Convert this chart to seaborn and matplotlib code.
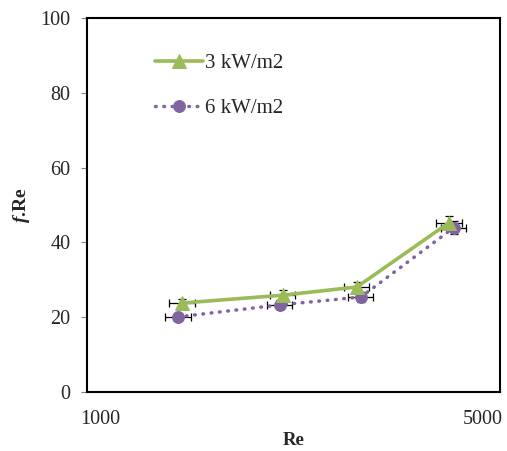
import numpy as np
import pandas as pd
import seaborn as sns
import matplotlib.pyplot as plt
from matplotlib.transforms import ScaledTranslation

# values
re_3kw = [1449, 2146, 2864, 4101]
fre_3kw = [23.8, 25.9, 28.1, 45.3]
re_6kw = [1426, 2121, 2908, 4180]
fre_6kw = [20.1, 23.3, 25.4, 44.0]
xerr_frac = 0.05
yerr_3kw = [1.2, 1.3, 1.3, 1.8]
yerr_6kw = [1.0, 1.2, 1.3, 1.8]
labels = ['3 kW/m2', '6 kW/m2']

sns.set_style('white')
plt.rcParams['font.family'] = ['Liberation Serif', 'DejaVu Serif']
plt.rcParams['mathtext.fontset'] = 'custom'
plt.rcParams['mathtext.rm'] = 'Liberation Serif'
plt.rcParams['mathtext.it'] = 'Liberation Serif:italic'
plt.rcParams['mathtext.bf'] = 'Liberation Serif:bold'
plt.rcParams['mathtext.bfit'] = 'Liberation Serif:italic:bold'

green = '#9BBB59'
purple = '#8064A2'

df = pd.concat([
    pd.DataFrame({'Re': re_3kw, 'fRe': fre_3kw, 'q': labels[0]}),
    pd.DataFrame({'Re': re_6kw, 'fRe': fre_6kw, 'q': labels[1]}),
])

fig = plt.figure(figsize=(5.07, 4.51), dpi=100)
ax = fig.add_axes([0.1716, 0.1308, 0.8144, 0.829])

# error bars first so the markers sit on top
for xs, ys, ye in [(re_3kw, fre_3kw, yerr_3kw), (re_6kw, fre_6kw, yerr_6kw)]:
    xs = np.array(xs)
    ax.errorbar(xs, ys, xerr=xs * xerr_frac, yerr=ye, fmt='none',
                ecolor='black', elinewidth=0.9, capsize=3, capthick=0.9, zorder=2)

sns.lineplot(data=df[df['q'] == labels[0]], x='Re', y='fRe', ax=ax,
             color=green, lw=2.6, marker='^', markersize=10,
             markeredgecolor=green, label=labels[0], zorder=4)
sns.lineplot(data=df[df['q'] == labels[1]], x='Re', y='fRe', ax=ax,
             color=purple, lw=2.5, linestyle=(0, (0.2, 2.2)), dash_capstyle='round',
             marker='o', markersize=8.5, markeredgecolor=purple,
             label=labels[1], zorder=3)

ax.set_xscale('log')
ax.set_xlim(1000, 5000)
ax.set_ylim(0, 100)
ax.set_xticks([1000, 5000])
ax.set_xticklabels(['1000', '5000'])
ax.xaxis.set_minor_locator(plt.NullLocator())
ax.set_yticks([0, 20, 40, 60, 80, 100])
ax.tick_params(axis='x', length=0, pad=13, labelsize=14.5)
ax.tick_params(axis='y', length=4, width=0.8, color='#808080', direction='out',
               left=True, pad=8, labelsize=14.5)

# x labels sit a bit inward like the original
xl = ax.get_xticklabels()
xl[0].set_transform(xl[0].get_transform() + ScaledTranslation(0.13, 0, fig.dpi_scale_trans))
xl[1].set_transform(xl[1].get_transform() + ScaledTranslation(-0.17, 0, fig.dpi_scale_trans))

for s in ax.spines.values():
    s.set_color('black')
    s.set_linewidth(1.5)

ax.set_xlabel('Re', fontsize=13.5, fontweight='bold', labelpad=2)
ax.set_ylabel(r'$\mathbfit{f}$.Re', fontsize=14, fontweight='bold', labelpad=6)

ax.legend(loc='upper left', bbox_to_anchor=(0.12, 0.955), frameon=False,
          fontsize=15, handlelength=2.3, handletextpad=0.1, labelspacing=1.2)

fig.savefig('out.png', dpi=100)
